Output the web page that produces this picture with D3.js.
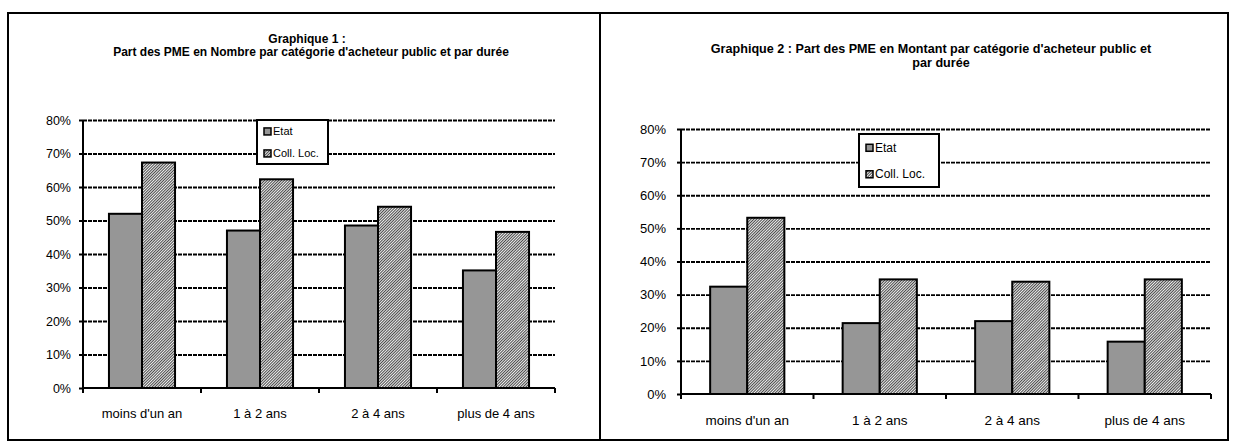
<!DOCTYPE html>
<html>
<head>
<meta charset="utf-8">
<script src="https://cdn.jsdelivr.net/npm/d3@7"></script>
<style>
  body { margin: 0; background: #fff; }
  svg { display: block; font-family: "Liberation Sans", Arial, sans-serif; }
</style>
</head>
<body>
<div id="chart"></div>
<script>
// Data
const categories = ["moins d'un an", "1 à 2 ans", "2 à 4 ans", "plus de 4 ans"];
const seriesNames = ["Etat", "Coll. Loc."];
const nombreEtat = [0.52, 0.47, 0.485, 0.351];
const nombreColl = [0.673, 0.623, 0.541, 0.466];
const montantEtat = [0.324, 0.214, 0.220, 0.158];
const montantColl = [0.532, 0.346, 0.339, 0.346];
const yTicks = [0, 0.1, 0.2, 0.3, 0.4, 0.5, 0.6, 0.7, 0.8];

const W = 1236, H = 446;

const svg = d3.select("#chart")
    .append("svg")
    .attr("width", W)
    .attr("height", H);

// Hatch pattern for Coll. Loc.
const defs = svg.append("defs");
const pat = defs.append("pattern")
    .attr("id", "hatch")
    .attr("patternUnits", "userSpaceOnUse")
    .attr("width", 2)
    .attr("height", 2)
    .attr("patternTransform", "rotate(45)");
pat.append("rect").attr("width", 2).attr("height", 2).attr("fill", "#eeeeee");
pat.append("rect").attr("width", 1).attr("height", 2).attr("fill", "#4a4a4a");

const fills = {"Etat": "#969696", "Coll. Loc.": "url(#hatch)"};

// Outer frame
svg.append("rect")
    .attr("x", 8).attr("y", 13)
    .attr("width", 1220).attr("height", 427)
    .attr("fill", "none")
    .attr("stroke", "#000")
    .attr("stroke-width", 2);
svg.append("line")
    .attr("x1", 600).attr("x2", 600)
    .attr("y1", 13).attr("y2", 440)
    .attr("stroke", "#000")
    .attr("stroke-width", 2);

function drawChart(cfg) {
    const data = categories.map((c, i) => ({
        cat: c,
        values: [{name: seriesNames[0], v: cfg.etat[i]}, {name: seriesNames[1], v: cfg.coll[i]}]
    }));

    const g = svg.append("g");

    const x0 = d3.scaleBand()
        .domain(categories)
        .range([cfg.left, cfg.right])
        .padding(0);

    const x1 = d3.scaleBand()
        .domain(seriesNames)
        .range([x0.bandwidth() * 0.22, x0.bandwidth() * 0.78]);

    const y = d3.scaleLinear()
        .domain([0, 0.8])
        .range([cfg.bottom, cfg.top]);

    // Title
    const title = g.append("text")
        .attr("text-anchor", "middle")
        .attr("font-weight", "bold")
        .attr("font-size", cfg.titleSize);
    cfg.title.forEach((t, i) => {
        title.append("tspan")
            .attr("x", cfg.titleX[i])
            .attr("y", cfg.titleY + i * cfg.titleGap)
            .text(t);
    });

    // Gridlines
    g.append("g")
        .attr("transform", `translate(${cfg.left},0)`)
        .call(d3.axisLeft(y).tickValues(yTicks.slice(1)).tickSize(-(cfg.right - cfg.left)).tickFormat(""))
        .call(s => s.select(".domain").remove())
        .selectAll("line")
        .attr("stroke", "#000")
        .attr("stroke-width", 1.8)
        .attr("stroke-dasharray", "4,1");

    // Y axis
    const yAxis = g.append("g")
        .attr("transform", `translate(${cfg.left},0)`)
        .call(d3.axisLeft(y).tickValues(yTicks).tickSize(4).tickPadding(cfg.tickPad).tickFormat(d3.format(".0%")));
    yAxis.select(".domain").remove();
    yAxis.selectAll("line").attr("stroke", "#000").attr("stroke-width", 2);
    yAxis.selectAll("text").attr("font-size", cfg.tickSize).attr("fill", "#000");
    g.append("line")
        .attr("x1", cfg.left).attr("x2", cfg.left)
        .attr("y1", cfg.top).attr("y2", cfg.bottom + 5)
        .attr("stroke", "#000").attr("stroke-width", 2);

    // Bars
    const groups = g.selectAll(".grp")
        .data(data)
        .enter()
        .append("g")
        .attr("transform", d => `translate(${x0(d.cat)},0)`);

    groups.selectAll("rect")
        .data(d => d.values)
        .enter()
        .append("rect")
        .attr("x", d => x1(d.name))
        .attr("y", d => y(d.v))
        .attr("width", x1.bandwidth())
        .attr("height", d => y(0) - y(d.v))
        .attr("fill", d => fills[d.name])
        .attr("stroke", "#000")
        .attr("stroke-width", 2);

    // X axis
    g.append("line")
        .attr("x1", cfg.left).attr("x2", cfg.right)
        .attr("y1", cfg.bottom).attr("y2", cfg.bottom)
        .attr("stroke", "#000").attr("stroke-width", 2);
    const bounds = categories.map(c => x0(c)).concat([cfg.right]);
    g.selectAll(".xtick")
        .data(bounds)
        .enter()
        .append("line")
        .attr("x1", d => d).attr("x2", d => d)
        .attr("y1", cfg.bottom).attr("y2", cfg.bottom + 5)
        .attr("stroke", "#000").attr("stroke-width", 2);
    g.selectAll(".xlab")
        .data(categories)
        .enter()
        .append("text")
        .attr("x", d => x0(d) + x0.bandwidth() / 2)
        .attr("y", cfg.bottom + cfg.labelDy)
        .attr("text-anchor", "middle")
        .attr("font-size", cfg.labelSize)
        .text(d => d);

    // Legend
    const lg = g.append("g")
        .attr("transform", `translate(${cfg.legend.x},${cfg.legend.y})`);
    lg.append("rect")
        .attr("width", cfg.legend.w)
        .attr("height", cfg.legend.h)
        .attr("fill", "#fff")
        .attr("stroke", "#000")
        .attr("stroke-width", 2);
    seriesNames.forEach((s, i) => {
        const cy = cfg.legend.h * (0.26 + i * 0.5);
        lg.append("rect")
            .attr("x", 7).attr("y", cy - 3.5)
            .attr("width", 7).attr("height", 7)
            .attr("fill", fills[s])
            .attr("stroke", "#000")
            .attr("stroke-width", 1.5);
        lg.append("text")
            .attr("x", 16).attr("y", cy + 4)
            .attr("font-size", cfg.legend.size)
            .text(s);
    });
}

drawChart({
    etat: nombreEtat, coll: nombreColl,
    left: 83, right: 555, top: 120, bottom: 388,
    title: ["Graphique 1 :", "Part  des PME en Nombre par catégorie d'acheteur public et par durée"],
    titleX: [307, 311], titleY: 43, titleGap: 13, titleSize: 12,
    tickPad: 8, tickSize: 12.5, labelSize: 13,
    labelDy: 30,
    legend: {x: 257, y: 120, w: 71, h: 44, size: 11}
});

drawChart({
    etat: montantEtat, coll: montantColl,
    left: 681, right: 1211, top: 129, bottom: 394,
    title: ["Graphique 2 : Part des PME en Montant par catégorie d'acheteur public et", "par durée"],
    titleX: [931, 941], titleY: 53, titleGap: 13.5, titleSize: 12.6,
    tickPad: 11, tickSize: 13, labelSize: 13.5,
    labelDy: 31,
    legend: {x: 859, y: 134, w: 80, h: 53, size: 12}
});
</script>
</body>
</html>
